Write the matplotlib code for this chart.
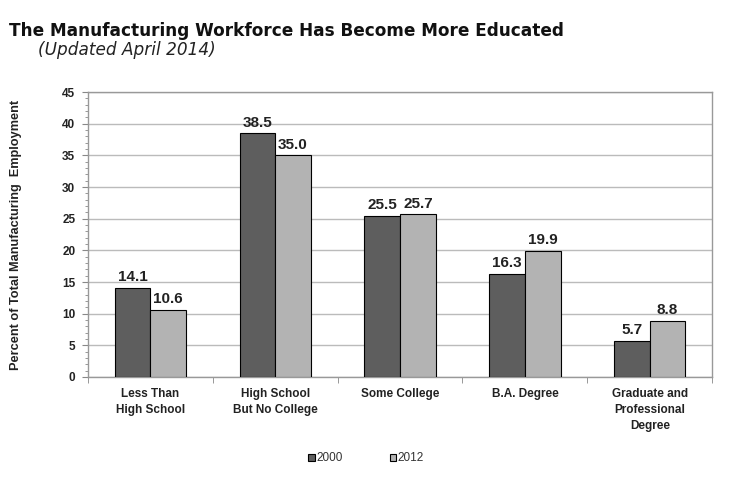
import matplotlib.pyplot as plt
import numpy as np
from matplotlib.ticker import MultipleLocator

categories = ['Less Than\nHigh School', 'High School\nBut No College', 'Some College',
              'B.A. Degree', 'Graduate and\nProfessional\nDegree']
vals_2000 = [14.1, 38.5, 25.5, 16.3, 5.7]
vals_2012 = [10.6, 35.0, 25.7, 19.9, 8.8]
series_names = ['2000', '2012']

dark = '#5e5e5e'
light = '#b3b3b3'
sans = ['Liberation Sans', 'DejaVu Sans']

fig = plt.figure(figsize=(7.32, 4.8), dpi=100)
ax = fig.add_axes([0.120, 0.2146, 0.853, 0.5934])

x = np.arange(len(categories))
w = 0.285
b1 = ax.bar(x - w / 2, vals_2000, w, color=dark, edgecolor='black', linewidth=0.8, label=series_names[0], zorder=3)
b2 = ax.bar(x + w / 2, vals_2012, w, color=light, edgecolor='black', linewidth=0.8, label=series_names[1], zorder=3)

for bars, vals in ((b1, vals_2000), (b2, vals_2012)):
    for rect, v in zip(bars, vals):
        ax.text(rect.get_x() + rect.get_width() / 2, v + 0.6, f'{v:.1f}', ha='center', va='bottom',
                fontsize=11, fontweight='bold', family=sans, color='#222222')

ax.set_xlim(-0.5, len(categories) - 0.5)
ax.set_ylim(0, 45)
ax.yaxis.set_major_locator(MultipleLocator(5))
ax.yaxis.set_minor_locator(MultipleLocator(1))
ax.grid(axis='y', color='#bbbbbb', linewidth=1.0, zorder=0)

ax.set_xticks(x)
ax.set_xticklabels(categories, fontsize=8.5, fontweight='bold', family=sans, color='#222222', linespacing=1.45)
ax.tick_params(axis='x', length=0, pad=8)
ax.set_xticks(np.arange(-0.5, len(categories)), minor=True)
ax.tick_params(axis='x', which='minor', length=4, color='#888888')
ax.tick_params(axis='y', which='major', length=4, color='#888888', labelsize=8.5, pad=5)
ax.tick_params(axis='y', which='minor', length=2, color='#888888')
for lab in ax.get_yticklabels():
    lab.set_fontweight('bold')
    lab.set_family(sans)
    lab.set_color('#222222')

for s in ax.spines.values():
    s.set_color('#999999')
    s.set_linewidth(1.0)

ax.set_ylabel('Percent of Total Manufacturing  Employment', fontsize=9.2, fontweight='bold',
              family=sans, color='#222222')
ax.yaxis.set_label_coords(-0.106, 0.5)

fig.text(0.012, 0.935, 'The Manufacturing Workforce Has Become More Educated', fontsize=12.2,
         fontweight='bold', family='DejaVu Sans', color='#111111', va='center')
fig.text(0.052, 0.895, '(Updated April 2014)', fontsize=12.2, style='italic',
         family='DejaVu Sans', color='#222222', va='center')

leg = fig.legend(handles=[b1, b2], labels=series_names, loc='center', bbox_to_anchor=(0.5, 0.045),
                 ncol=2, frameon=False, handlelength=0.55, handleheight=0.55, handletextpad=0.1,
                 columnspacing=4.0, prop={'family': sans, 'size': 8.5})
for t in leg.get_texts():
    t.set_color('#333333')

fig.savefig('out.png', dpi=100)
